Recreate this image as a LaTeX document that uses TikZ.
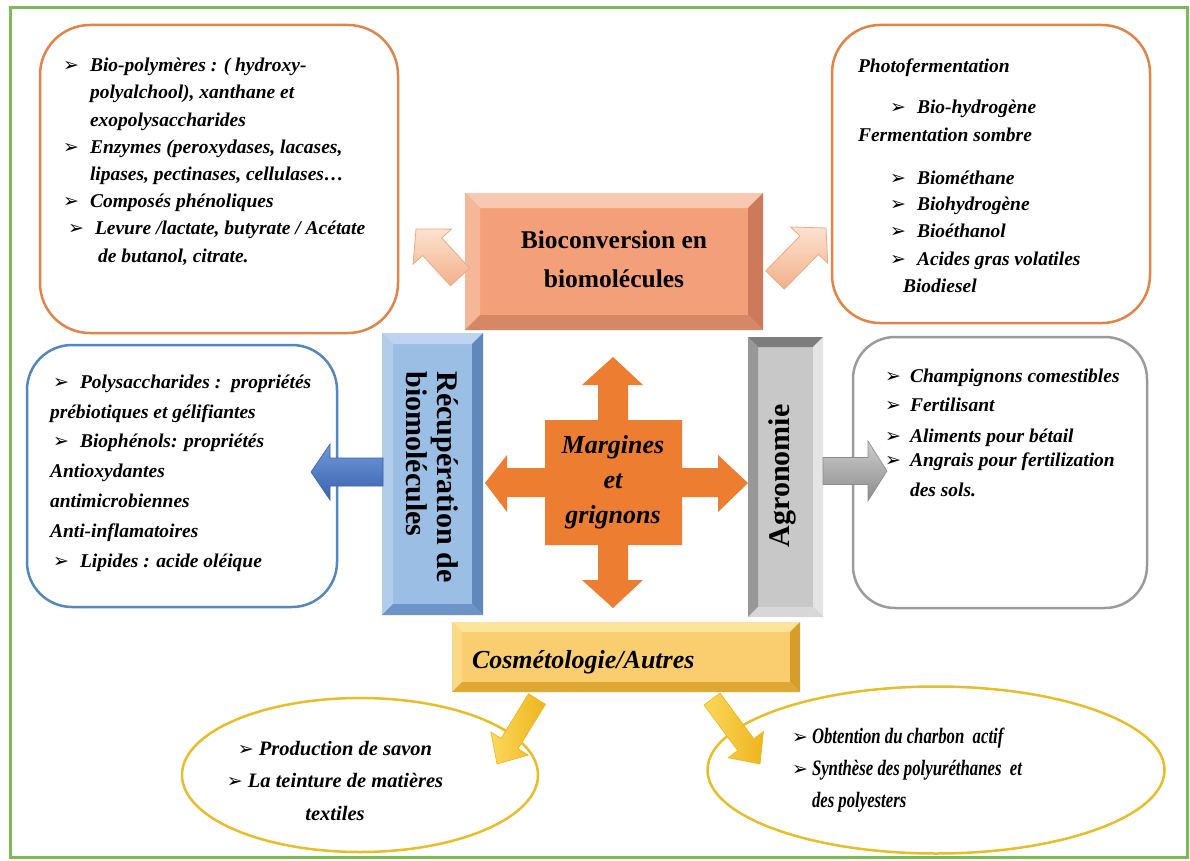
\documentclass[tikz,border=0pt]{standalone}
\usepackage{fontspec}
\setmainfont{Liberation Serif}
\newfontfamily\dingfont{DejaVu Sans}
\newfontfamily\condfont[FakeStretch=0.76]{Liberation Serif}
\usetikzlibrary{calc,shapes.geometric}

\definecolor{frameg}{RGB}{125,185,85}
\definecolor{orstroke}{RGB}{226,132,72}
\definecolor{blstroke}{RGB}{84,134,192}
\definecolor{grstroke}{RGB}{155,155,155}
\definecolor{yestroke}{RGB}{232,190,40}
\definecolor{crossor}{RGB}{237,125,49}
% bevel colours
\definecolor{bcface}{RGB}{243,160,122}
\definecolor{bctop}{RGB}{249,200,176}
\definecolor{bcleft}{RGB}{246,182,152}
\definecolor{bcright}{RGB}{205,122,90}
\definecolor{bcbottom}{RGB}{214,136,102}
\definecolor{rcface}{RGB}{155,190,228}
\definecolor{rctop}{RGB}{190,212,240}
\definecolor{rcleft}{RGB}{178,204,236}
\definecolor{rcright}{RGB}{96,136,186}
\definecolor{rcbottom}{RGB}{108,148,198}
\definecolor{agface}{RGB}{200,200,200}
\definecolor{agtop}{RGB}{125,125,125}
\definecolor{agleft}{RGB}{152,152,152}
\definecolor{agright}{RGB}{228,228,228}
\definecolor{agbottom}{RGB}{215,215,215}
\definecolor{csface}{RGB}{250,205,110}
\definecolor{cstop}{RGB}{253,228,155}
\definecolor{csleft}{RGB}{251,218,135}
\definecolor{csright}{RGB}{214,158,40}
\definecolor{csbottom}{RGB}{222,168,52}
% arrow colours
\definecolor{peachl}{RGB}{253,226,208}
\definecolor{peachm}{RGB}{242,176,138}
\definecolor{peachd}{RGB}{236,170,130}
\definecolor{bluel}{RGB}{112,152,216}
\definecolor{bluem}{RGB}{58,98,176}
\definecolor{grayl}{RGB}{205,205,205}
\definecolor{graym}{RGB}{140,140,140}
\definecolor{yell}{RGB}{252,216,92}
\definecolor{yelm}{RGB}{238,180,28}

\newcommand{\bulglyph}{{\normalfont\dingfont\fontsize{19}{19}\selectfont ➢}}
\newcommand{\bl}{\makebox[27pt][l]{\bulglyph}}
\newcommand{\blb}{\makebox[25pt][l]{\bulglyph}}
\newcommand{\blc}{\makebox[20pt][l]{\bulglyph}}

\newcommand{\bevelbox}[6]{%
\fill[#6face] (#1,#2) rectangle (#3,#4);
\fill[#6top] (#1,#2) -- (#3,#2) -- ({#3-#5},{#2+#5}) -- ({#1+#5},{#2+#5}) -- cycle;
\fill[#6left] (#1,#2) -- ({#1+#5},{#2+#5}) -- ({#1+#5},{#4-#5}) -- (#1,#4) -- cycle;
\fill[#6right] (#3,#2) -- (#3,#4) -- ({#3-#5},{#4-#5}) -- ({#3-#5},{#2+#5}) -- cycle;
\fill[#6bottom] (#1,#4) -- ({#1+#5},{#4-#5}) -- ({#3-#5},{#4-#5}) -- (#3,#4) -- cycle;
}

\newcommand{\blockarrow}[6]{%
\coordinate (#2H) at ($(#3)!#6!(#2)$);
\path[#1] ($(#2)!#4!90:(#3)$) -- ($(#2H)!#4!90:(#3)$) -- ($(#2H)!#5!90:(#3)$) -- (#3)
  -- ($(#2H)!#5!-90:(#3)$) -- ($(#2H)!#4!-90:(#3)$) -- ($(#2)!#4!-90:(#3)$) -- cycle;
}

\begin{document}
\begin{tikzpicture}[x=1pt,y=-1pt,
  rbox/.style={rectangle, line width=2.5pt, inner sep=0pt, fill=white},
  txt/.style={inner sep=0pt, outer sep=0pt, align=left, text=black},
  lst/.style={font=\bfseries\itshape\fontsize{19.5}{#1}\selectfont},
  peach/.style={draw=peachd, line width=0.8pt, top color=peachl, bottom color=peachm},
  bluearr/.style={draw=bluem, line width=0.6pt, top color=bluel, bottom color=bluem},
  grayarr/.style={draw=graym, line width=0.6pt, top color=grayl, bottom color=graym},
  yelarr/.style={draw=yelm, line width=0.6pt, left color=yell, right color=yelm}
]
\useasboundingbox (0,0) rectangle (1190,861);
\fill[white] (0,0) rectangle (1190,861);
\draw[frameg, line width=3pt] (10,8) rectangle (1187,857);

% rounded boxes
\node[rbox, draw=orstroke, rounded corners=50pt, minimum width=358pt, minimum height=308pt] (tlbox) at (219,179) {};
\node[rbox, draw=orstroke, rounded corners=48pt, minimum width=318pt, minimum height=298pt] (trbox) at (991,174) {};
\node[rbox, draw=blstroke, rounded corners=45pt, minimum width=310pt, minimum height=262pt] (blbox) at (182,476) {};
\node[rbox, draw=grstroke, rounded corners=42pt, minimum width=294pt, minimum height=271pt] (grbox) at (1000,472.5) {};

% ellipses
\node[ellipse, draw=yestroke, line width=2.5pt, fill=white, minimum width=356pt, minimum height=154pt] (elL) at (360,775) {};
\node[ellipse, draw=yestroke, line width=2.5pt, fill=white, minimum width=457pt, minimum height=167pt] (elR) at (936,770) {};

% bevel boxes
\bevelbox{465}{193}{763}{330}{15}{bc}
\bevelbox{382}{333}{483}{615}{11}{rc}
\bevelbox{748}{337}{823}{617}{10}{ag}
\bevelbox{452}{622}{800}{692}{10}{cs}

\node[txt, align=center, anchor=base, font=\bfseries\fontsize{25.5}{39}\selectfont] (bioconv) at (614,287) {Bioconversion en\\biomolécules};
\node[txt, rotate=-90, font=\bfseries\fontsize{30}{31}\selectfont] (recup) at (432,477) {Récupération de\\biomolécules};
\node[txt, rotate=90, font=\bfseries\fontsize{30}{31}\selectfont] (agro) at (782,476) {Agronomie};
\node[txt, anchor=base west, font=\bfseries\itshape\fontsize{26}{30}\selectfont] (cosmeto) at (472,668) {Cosmétologie/Autres};

% central cross
\fill[crossor] (613,357) -- (643,385) -- (628,385) -- (628,420) -- (682,420) -- (682,468) -- (718,468) -- (718,455)
  -- (748,483) -- (718,512) -- (718,497) -- (682,497) -- (682,545) -- (628,545) -- (628,580) -- (643,580)
  -- (613,608) -- (582,580) -- (598,580) -- (598,545) -- (545,545) -- (545,497) -- (507,497) -- (507,512)
  -- (485,483) -- (507,455) -- (507,468) -- (545,468) -- (545,420) -- (598,420) -- (598,385) -- (582,385) -- cycle;
\node[txt, align=center, anchor=base, font=\bfseries\itshape\fontsize{26}{35}\selectfont] (margines) at (613,523) {Margines\\et\\grignons};

% block arrows
\coordinate (pA) at (460,277); \coordinate (pB) at (416,229);
\blockarrow{peach}{pA}{pB}{13pt}{26pt}{24pt}
\coordinate (pC) at (775,280); \coordinate (pD) at (826,228);
\blockarrow{peach}{pC}{pD}{13pt}{26pt}{24pt}
\coordinate (bA) at (383,472); \coordinate (bB) at (311,472);
\blockarrow{bluearr}{bA}{bB}{14pt}{28pt}{19pt}
\coordinate (gA) at (823,471); \coordinate (gB) at (887,471);
\blockarrow{grayarr}{gA}{gB}{13.5pt}{30pt}{19pt}
\coordinate (yA) at (537,699); \coordinate (yB) at (497,764);
\blockarrow{yelarr}{yA}{yB}{10pt}{22pt}{24pt}
\coordinate (yC) at (712,699); \coordinate (yD) at (760,764);
\blockarrow{yelarr}{yC}{yD}{10pt}{22pt}{24pt}

% texts (anchored at the baseline of their last line)
\node[txt, anchor=base west, lst=27.2] (tltxt) at (63,262) {%
\bl Bio-polymères : ( hydroxy-\\
\hspace*{27pt}polyalchool), xanthane et\\
\hspace*{27pt}exopolysaccharides\\
\bl Enzymes (peroxydases, lacases,\\
\hspace*{27pt}lipases, pectinases, cellulases…\\
\bl Composés phénoliques\\
\hspace*{5pt}\bl Levure /lactate, butyrate / Acétate\\
\hspace*{35pt}de butanol, citrate.};

\node[txt, anchor=base west, lst=26.5] (trtxt) at (858,292) {%
Photofermentation\\[14pt]
\hspace*{32pt}\bl Bio-hydrogène\\[2pt]
Fermentation sombre\\[16pt]
\hspace*{32pt}\bl Biométhane\\
\hspace*{32pt}\bl Biohydrogène\\
\hspace*{32pt}\bl Bioéthanol\\[2pt]
\hspace*{32pt}\bl Acides gras volatiles\\
\hspace*{45pt}Biodiesel};

\node[txt, anchor=base west, lst=29.8] (bltxt) at (50,567) {%
\hspace*{3pt}\bl Polysaccharides :\ \ propriétés\\
prébiotiques et gélifiantes\\
\hspace*{3pt}\bl Biophénols: propriétés\\
Antioxydantes\\
antimicrobiennes\\
Anti-inflamatoires\\
\hspace*{3pt}\bl Lipides : acide oléique};

\node[txt, anchor=base west, lst=29.5] (grtxt) at (885,496) {%
\blb Champignons comestibles\\
\blb Fertilisant\\[1pt]
\blb Aliments pour bétail\\[-5pt]
\blb Angrais pour fertilization\\
\hspace*{25pt}des sols.};

\node[txt, align=center, anchor=base, font=\bfseries\itshape\fontsize{20.5}{32.5}\selectfont] (elLtxt) at (335,820) {%
\bulglyph\ Production de savon\\
\bulglyph\ La teinture de matières\\
textiles};

\node[txt, anchor=base west, font=\condfont\bfseries\itshape\fontsize{22}{32}\selectfont] (elRtxt) at (792,807) {%
\blc Obtention du charbon\ \ actif\\
\blc Synthèse des polyuréthanes\ \ et\\
\hspace*{20pt}des polyesters};
\end{tikzpicture}
\end{document}
